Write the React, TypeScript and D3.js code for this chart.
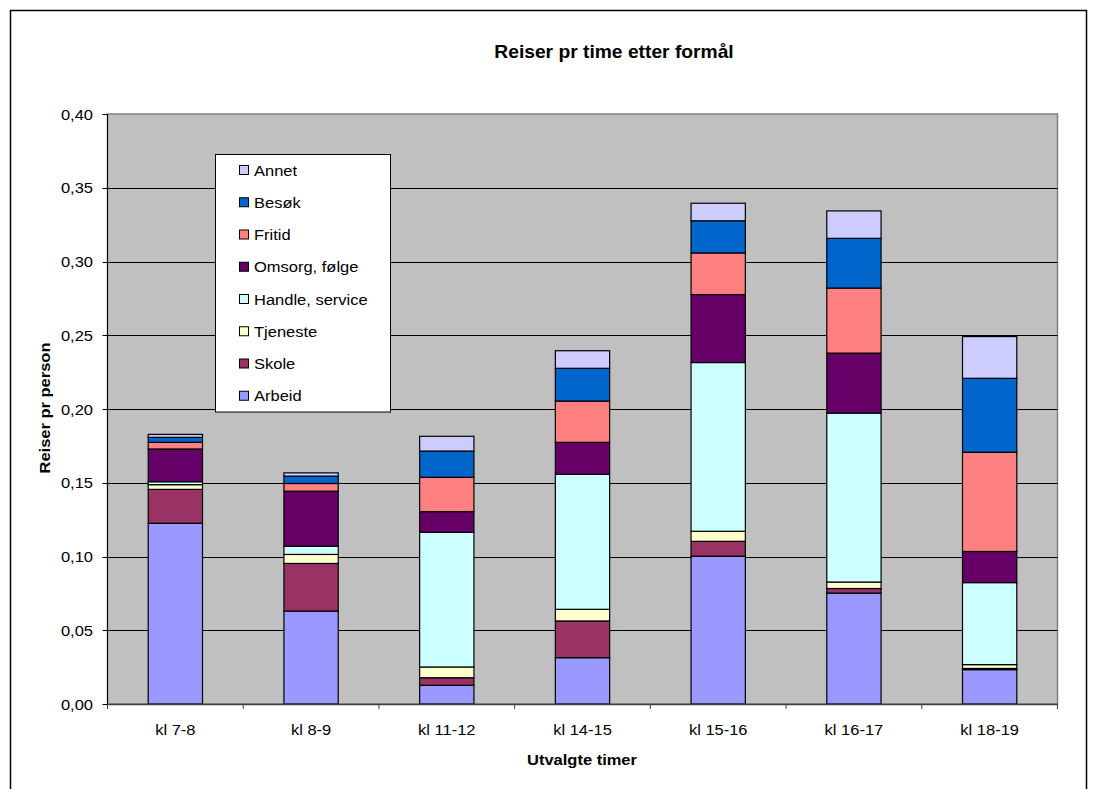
import React from "react";
import * as d3 from "d3";

// Trips per person per hour, by purpose, for selected hours of the day
const categories = ["kl 7-8", "kl 8-9", "kl 11-12", "kl 14-15", "kl 15-16", "kl 16-17", "kl 18-19"];
const seriesNames = ["Arbeid", "Skole", "Tjeneste", "Handle, service", "Omsorg, følge", "Fritid", "Besøk", "Annet"];
const arbeid = [0.1225, 0.063, 0.0127, 0.0314, 0.1002, 0.0752, 0.0233];
const skole = [0.023, 0.0323, 0.0051, 0.0249, 0.0101, 0.0031, 0.0008];
const tjeneste = [0.0032, 0.0061, 0.0073, 0.0079, 0.0068, 0.0044, 0.0026];
const handle = [0.002, 0.0056, 0.0913, 0.0915, 0.1144, 0.1145, 0.0556];
const omsorg = [0.0222, 0.0373, 0.014, 0.0217, 0.0461, 0.0407, 0.0211];
const fritid = [0.0045, 0.0052, 0.0233, 0.028, 0.0282, 0.0441, 0.0673];
const besok = [0.0034, 0.005, 0.0178, 0.0222, 0.0218, 0.0337, 0.0501];
const annet = [0.002, 0.0022, 0.01, 0.0119, 0.0119, 0.0186, 0.0283];
const seriesColors = ["#9999FF", "#993366", "#FFFFCC", "#CCFFFF", "#660066", "#FF8080", "#0066CC", "#CCCCFF"];
const yTicks = [0, 0.05, 0.1, 0.15, 0.2, 0.25, 0.3, 0.35, 0.4];

const seriesValues = [arbeid, skole, tjeneste, handle, omsorg, fritid, besok, annet];

const W = 1095;
const H = 789;
const plot = { left: 107.5, right: 1057.5, top: 114, bottom: 704 };
const FONT = "'Liberation Sans', Arial, sans-serif";
const SX = 1.1; // horizontal stretch of the lettering

function Label({ x, y, children, size = 15, bold = false, anchor = "middle", rotate = 0 }: any) {
  const t = rotate ? `translate(${x},${y}) rotate(${rotate}) scale(${SX},1)` : `translate(${x},${y}) scale(${SX},1)`;
  return (
    <text
      transform={t}
      fontFamily={FONT}
      fontSize={size}
      fontWeight={bold ? "bold" : "normal"}
      textAnchor={anchor}
      fill="#000"
    >
      {children}
    </text>
  );
}

export default function App() {
  const rows = categories.map((c, i) => {
    const r: any = { cat: c };
    seriesNames.forEach((s, j) => (r[s] = seriesValues[j][i]));
    return r;
  });
  const stacked = d3.stack<any>().keys(seriesNames)(rows);

  const x = d3.scaleBand<string>().domain(categories).range([plot.left, plot.right]).paddingInner(0.6).paddingOuter(0.3);
  const band = d3.scaleBand<string>().domain(categories).range([plot.left, plot.right]);
  const y = d3.scaleLinear().domain([0, 0.4]).range([plot.bottom, plot.top]);
  const fmt = (v: number) => v.toFixed(2).replace(".", ",");

  const legendX = 215.5;
  const legendY = 154.5;
  const legendRow = 32.25;
  const legendOrder = [...seriesNames].reverse();

  return (
    <svg width={W} height={H} style={{ position: "absolute", left: 0, top: 0, background: "#fff" }}>
      <rect x={10.5} y={10.5} width={1076} height={H + 20} fill="#fff" stroke="#000" strokeWidth={1.5} />

      <Label x={614} y={58} size={17.5} bold>
        Reiser pr time etter formål
      </Label>

      {/* plot area */}
      <rect
        x={plot.left}
        y={plot.top}
        width={plot.right - plot.left}
        height={plot.bottom - plot.top}
        fill="#C0C0C0"
        stroke="#808080"
        strokeWidth={1.5}
      />
      {yTicks.slice(1, -1).map((t) => (
        <line key={t} x1={plot.left} x2={plot.right} y1={Math.round(y(t)) + 0.5} y2={Math.round(y(t)) + 0.5} stroke="#000" strokeWidth={1} />
      ))}

      {/* y axis */}
      <line x1={plot.left} x2={plot.left} y1={plot.top} y2={plot.bottom} stroke="#000" strokeWidth={1} />
      {yTicks.map((t) => (
        <g key={t}>
          <line x1={plot.left - 5} x2={plot.left} y1={Math.round(y(t)) + 0.5} y2={Math.round(y(t)) + 0.5} stroke="#000" />
          <Label x={93} y={y(t) + 5.5} size={15} anchor="end">
            {fmt(t)}
          </Label>
        </g>
      ))}

      {/* stacked bars */}
      {stacked.map((layer, j) => (
        <g key={layer.key}>
          {layer.map((d: any, i: number) => (
            <rect
              key={i}
              x={x(categories[i])}
              y={y(d[1])}
              width={x.bandwidth()}
              height={Math.max(0, y(d[0]) - y(d[1]))}
              fill={seriesColors[j]}
              stroke="#000"
              strokeWidth={1.2}
            />
          ))}
        </g>
      ))}

      {/* x axis */}
      <line x1={plot.left} x2={plot.right} y1={plot.bottom + 0.5} y2={plot.bottom + 0.5} stroke="#404040" strokeWidth={1.5} />
      {categories.map((c, i) => (
        <line key={c} x1={band(c)!} x2={band(c)!} y1={plot.bottom} y2={plot.bottom + 5} stroke="#404040" />
      ))}
      <line x1={plot.right} x2={plot.right} y1={plot.bottom} y2={plot.bottom + 5} stroke="#404040" />
      {categories.map((c) => (
        <Label key={c} x={band(c)! + band.bandwidth() / 2} y={735} size={15}>
          {c}
        </Label>
      ))}

      <Label x={582} y={765} size={15} bold>
        Utvalgte timer
      </Label>
      <Label x={49.5} y={408} size={15} bold rotate={-90}>
        Reiser pr person
      </Label>

      {/* legend */}
      <rect x={legendX} y={legendY} width={175} height={257.5} fill="#fff" stroke="#000" strokeWidth={1} />
      {legendOrder.map((name, k) => {
        const cy = 170 + k * legendRow;
        const color = seriesColors[seriesNames.indexOf(name)];
        return (
          <g key={name}>
            <rect x={239.5} y={cy - 4.5} width={9} height={9} fill={color} stroke="#000" strokeWidth={1} />
            <Label x={254} y={cy + 5.5} size={15} anchor="start">
              {name}
            </Label>
          </g>
        );
      })}
    </svg>
  );
}
